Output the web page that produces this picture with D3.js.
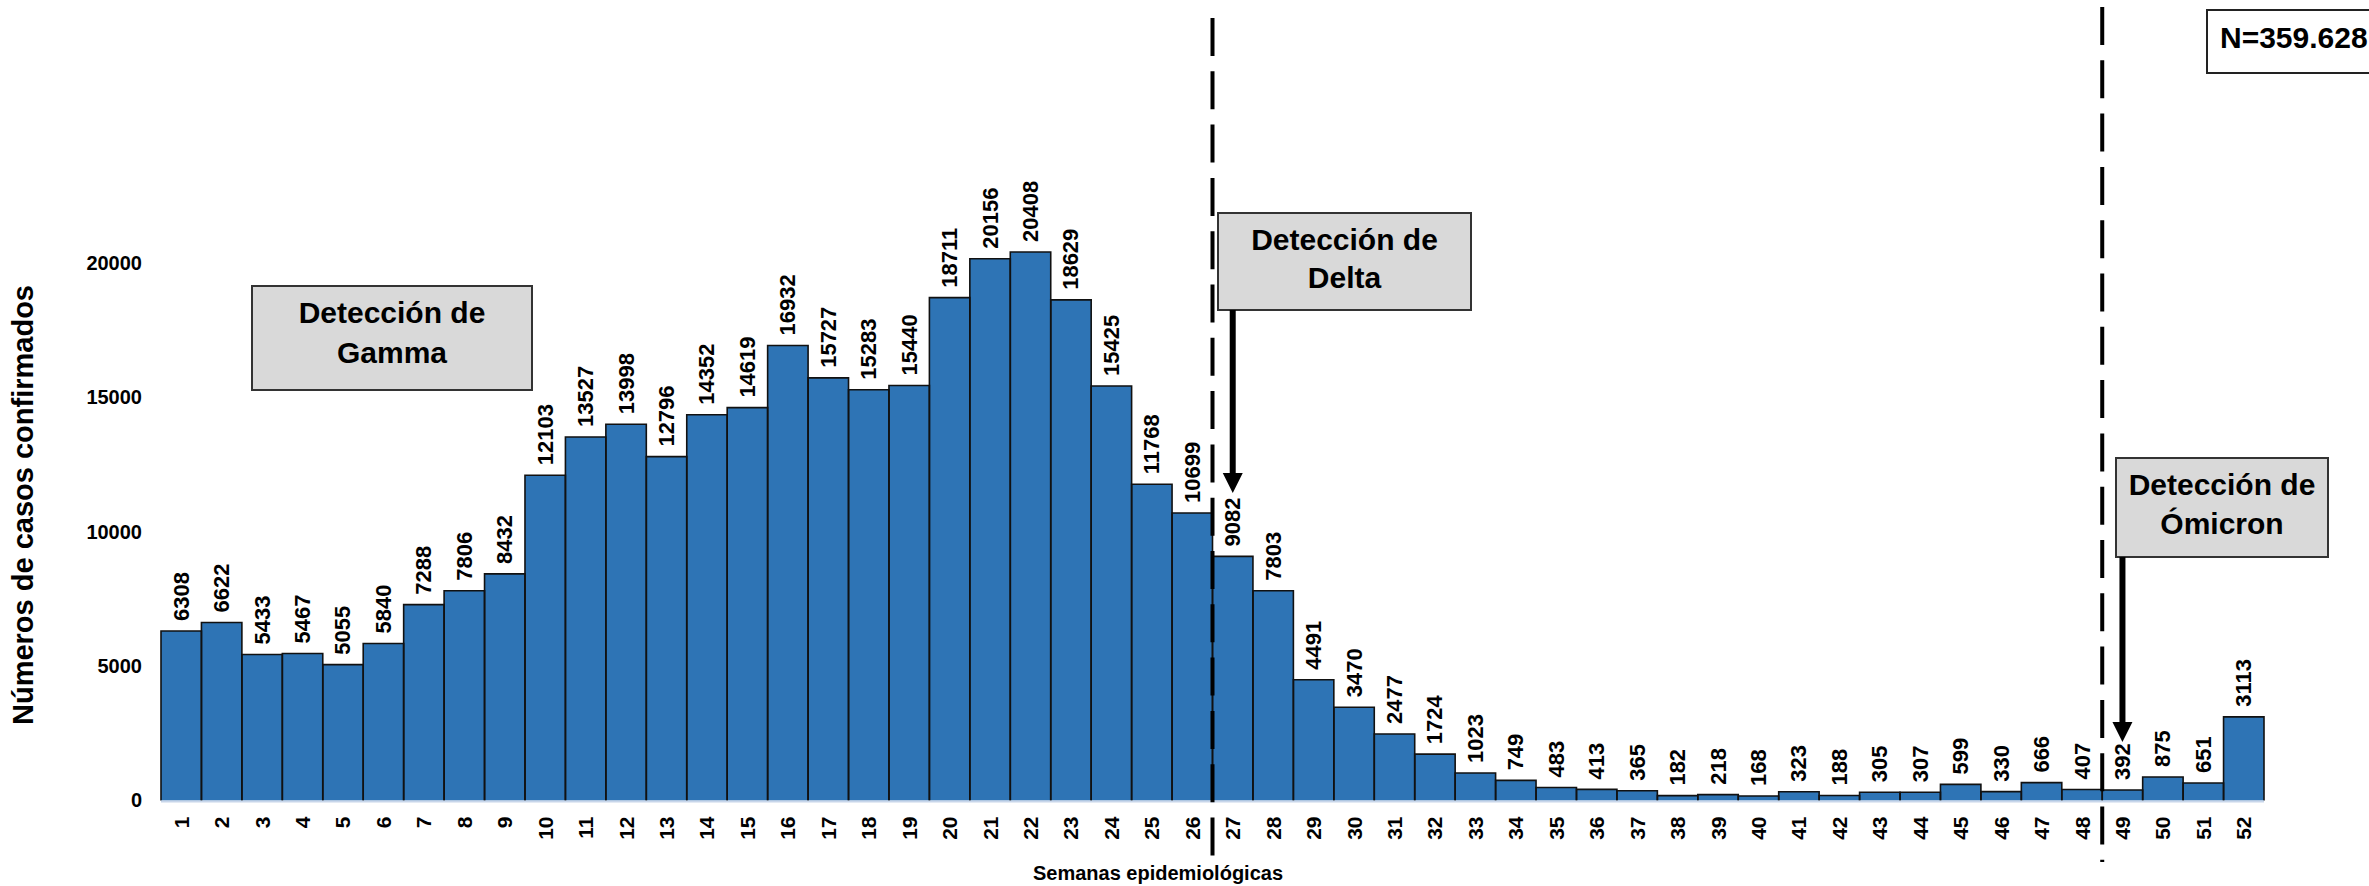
<!DOCTYPE html>
<html>
<head>
<meta charset="utf-8">
<script src="https://cdn.jsdelivr.net/npm/d3@7"></script>
<style>
  html, body { margin: 0; padding: 0; background: #fff; }
  svg text { font-family: "Liberation Sans", Arial, sans-serif; font-weight: bold; fill: #000; }
</style>
</head>
<body>
<svg id="chart" width="2369" height="886"></svg>
<script>
// ---- Data ----
const weeks = ["1","2","3","4","5","6","7","8","9","10","11","12","13","14","15","16","17","18","19","20",
  "21","22","23","24","25","26","27","28","29","30","31","32","33","34","35","36","37","38","39","40",
  "41","42","43","44","45","46","47","48","49","50","51","52"];
const cases = [6308,6622,5433,5467,5055,5840,7288,7806,8432,12103,13527,13998,12796,14352,14619,16932,15727,15283,15440,18711,
  20156,20408,18629,15425,11768,10699,9082,7803,4491,3470,2477,1724,1023,749,483,413,365,182,218,168,
  323,188,305,307,599,330,666,407,392,875,651,3113];
const yTicks = [0, 5000, 10000, 15000, 20000];
const xTitle = "Semanas epidemiológicas";
const yTitle = "Números de casos confirmados";
const totalLabel = "N=359.628";
const annotations = [
  { lines: ["Detección de", "Gamma"], week: null },
  { lines: ["Detección de", "Delta"], week: "27" },
  { lines: ["Detección de", "Ómicron"], week: "49" }
];
const variantStartWeeks = ["27", "49"];

// ---- Setup ----
const svg = d3.select("#chart");
const data = weeks.map((w, i) => ({ week: w, value: cases[i] }));

const x = d3.scaleBand().domain(weeks).range([161, 2264]).padding(0);
const y = d3.scaleLinear().domain([0, 20000]).range([800.5, 263]);

// ---- Bars ----
const barColor = "#2e74b5";
const g = svg.append("g");
g.selectAll("rect.bar").data(data).join("rect")
  .attr("class", "bar")
  .attr("x", d => x(d.week))
  .attr("y", d => y(d.value))
  .attr("width", x.bandwidth())
  .attr("height", d => y(0) - y(d.value))
  .attr("fill", barColor);

g.selectAll("path.outline").data(data).join("path")
  .attr("class", "outline")
  .attr("d", d => {
    const x0 = x(d.week), x1 = x0 + x.bandwidth(), yt = y(d.value), yb = y(0);
    return `M${x0},${yb}V${yt}H${x1}V${yb}`;
  })
  .attr("fill", "none")
  .attr("stroke", "#111")
  .attr("stroke-width", 1.6);

// baseline
svg.append("line")
  .attr("x1", x.range()[0]).attr("x2", x.range()[1])
  .attr("y1", y(0) + 1).attr("y2", y(0) + 1)
  .attr("stroke", "#c8d6ea").attr("stroke-width", 2);

// value labels
g.selectAll("text.val").data(data).join("text")
  .attr("class", "val")
  .attr("transform", d => `translate(${x(d.week) + x.bandwidth() / 2},${y(d.value) - 10}) rotate(-90)`)
  .attr("text-anchor", "start")
  .attr("dominant-baseline", "central")
  .style("font-size", "22px")
  .text(d => d.value);

// ---- Y axis ----
const yAxis = svg.append("g")
  .attr("transform", `translate(${x.range()[0]},0)`)
  .call(d3.axisLeft(y).tickValues(yTicks).tickSize(0).tickPadding(19).tickFormat(d3.format("d")));
yAxis.select(".domain").remove();
yAxis.selectAll("text").style("font-size", "20px").attr("font-family", null);

// ---- X axis ----
const xAxis = svg.append("g")
  .attr("transform", `translate(0,${y(0)})`)
  .call(d3.axisBottom(x).tickSize(0));
xAxis.select(".domain").remove();
xAxis.selectAll("text")
  .style("font-size", "21px")
  .attr("font-family", null)
  .attr("y", 0).attr("dy", null)
  .attr("transform", "translate(0,16) rotate(-90)")
  .attr("text-anchor", "end")
  .attr("dominant-baseline", "central");

// ---- Titles ----
svg.append("text")
  .attr("x", 1158).attr("y", 880)
  .attr("text-anchor", "middle")
  .style("font-size", "20px")
  .text(xTitle);

svg.append("text")
  .attr("transform", "translate(33,505) rotate(-90)")
  .attr("text-anchor", "middle")
  .style("font-size", "29px")
  .text(yTitle);

// ---- Dashed variant lines ----
const dashTops = [18, 7];
variantStartWeeks.forEach((w, i) => {
  svg.append("line")
    .attr("x1", x(w)).attr("x2", x(w))
    .attr("y1", dashTops[i]).attr("y2", 862)
    .attr("stroke", "#000").attr("stroke-width", 4)
    .attr("stroke-dasharray", "38,15.3");
});

// ---- Annotation boxes ----
const boxes = [
  { x: 252, y: 286, w: 280, h: 104, base1: 323, base2: 363 },
  { x: 1218, y: 213, w: 253, h: 97, base1: 250, base2: 288 },
  { x: 2116, y: 458, w: 212, h: 99, base1: 495, base2: 534 }
];
const arrowTips = [null, 493, 742];

annotations.forEach((a, i) => {
  const b = boxes[i];
  svg.append("rect")
    .attr("x", b.x).attr("y", b.y).attr("width", b.w).attr("height", b.h)
    .attr("fill", "#d9d9d9").attr("stroke", "#333").attr("stroke-width", 2);
  const cx = b.x + b.w / 2;
  svg.append("text").attr("x", cx).attr("y", b.base1).attr("text-anchor", "middle")
    .style("font-size", "30px").text(a.lines[0]);
  svg.append("text").attr("x", cx).attr("y", b.base2).attr("text-anchor", "middle")
    .style("font-size", "30px").text(a.lines[1]);
  if (a.week) {
    const ax = x(a.week) + x.bandwidth() / 2;
    const tip = arrowTips[i];
    svg.append("line")
      .attr("x1", ax).attr("x2", ax)
      .attr("y1", b.y + b.h).attr("y2", tip - 18)
      .attr("stroke", "#000").attr("stroke-width", 6);
    svg.append("path")
      .attr("d", `M${ax - 10},${tip - 20}L${ax + 10},${tip - 20}L${ax},${tip}Z`)
      .attr("fill", "#000");
  }
});

// ---- Total box ----
svg.append("rect")
  .attr("x", 2207).attr("y", 10).attr("width", 180).attr("height", 63)
  .attr("fill", "#fff").attr("stroke", "#222").attr("stroke-width", 2);
svg.append("text")
  .attr("x", 2220).attr("y", 48)
  .style("font-size", "30px")
  .text(totalLabel);
</script>
</body>
</html>
